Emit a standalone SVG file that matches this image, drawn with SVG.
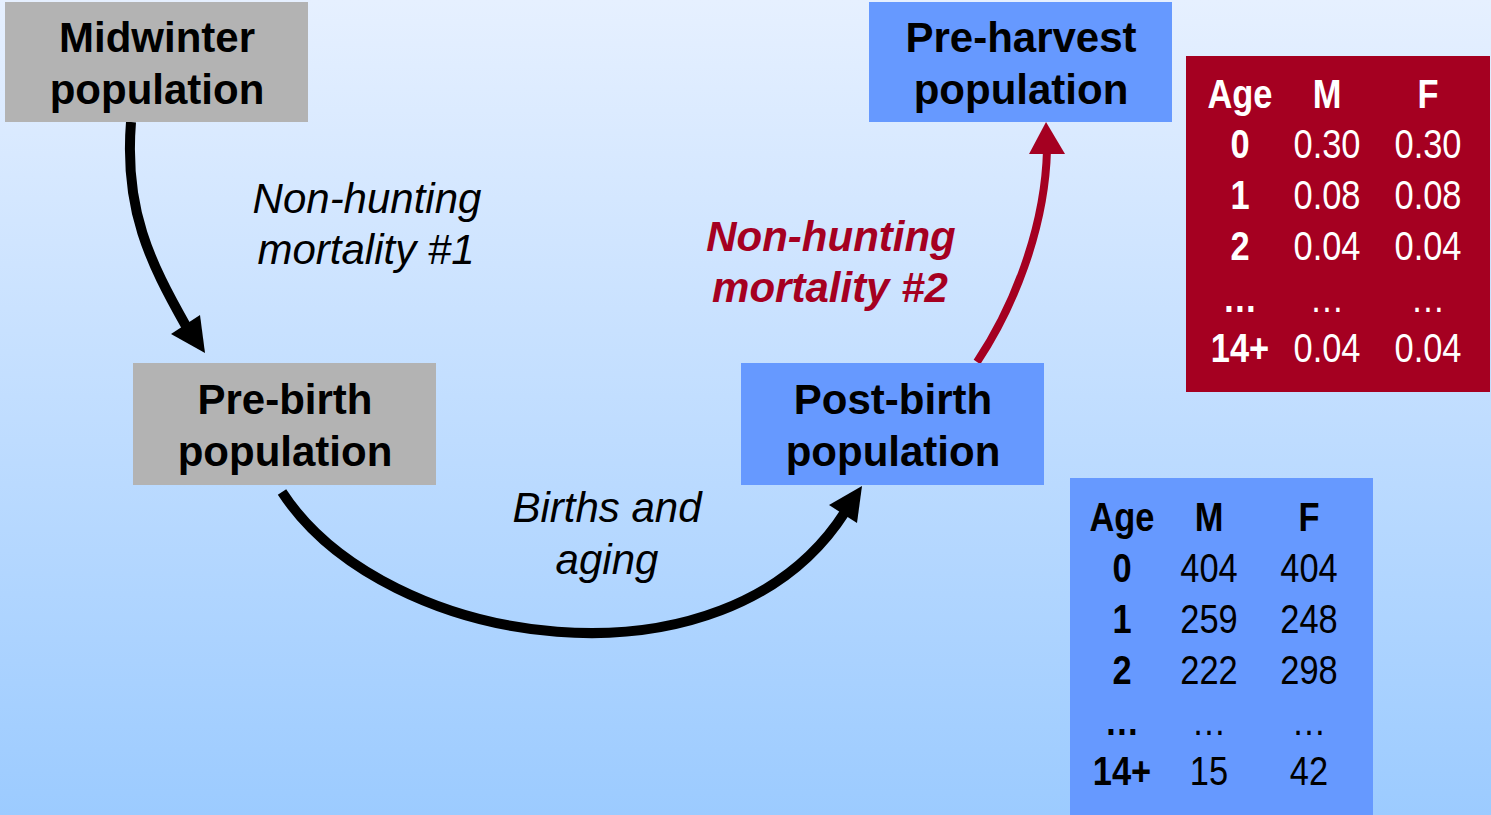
<svg xmlns="http://www.w3.org/2000/svg" width="1491" height="815" viewBox="0 0 1491 815">
<defs>
<linearGradient id="bg" x1="0" y1="0" x2="0" y2="1">
<stop offset="0" stop-color="#e6f0ff"/>
<stop offset="1" stop-color="#9ccbff"/>
</linearGradient>
<style>
.grey{fill:#b3b3b3}
.blue{fill:#6699ff}
.red{fill:#a50021}
.title{font-family:"Liberation Sans",Arial,sans-serif;font-weight:bold;font-size:42px;text-anchor:middle;fill:#000}
.lbl{font-family:"Liberation Sans",Arial,sans-serif;font-style:italic;font-size:42px;text-anchor:middle;fill:#000}
.lblr{font-family:"Liberation Sans",Arial,sans-serif;font-style:italic;font-weight:bold;font-size:42px;text-anchor:middle;fill:#a50021}
.tb text{font-family:"Liberation Sans",Arial,sans-serif;font-size:41px;text-anchor:middle}
.hd{font-weight:bold}
.v{font-weight:normal}
.w text{fill:#fff}
.k text{fill:#000}
.arr{fill:none;stroke:#000;stroke-width:10}
.arrr{fill:none;stroke:#a50021;stroke-width:8}
</style>
</defs>
<rect width="1491" height="815" fill="url(#bg)"/>
<g id="connectors">
<path class="arr" d="M131,122 C124,210 150,262 186,326"/>
<polygon points="205,353 171,334 200,315" fill="#000"/>
<path class="arr" d="M282,492 C385,650 725,700 845,512"/>
<polygon points="862,486 829,505 857,523" fill="#000"/>
<path class="arrr" d="M977,362 C1012,310 1045,230 1047,150"/>
<polygon points="1046,122 1029,154 1065,154" fill="#a50021"/>
</g>
<g id="label-nh1">
<text class="lbl" x="367" y="213">Non-hunting</text>
<text class="lbl" x="366" y="264">mortality #1</text>
</g>
<g id="label-nh2">
<text class="lblr" x="831" y="251">Non-hunting</text>
<text class="lblr" x="830" y="302">mortality #2</text>
</g>
<g id="label-births">
<text class="lbl" x="607" y="522">Births and</text>
<text class="lbl" x="607" y="574">aging</text>
</g>
<g id="node-midwinter">
<rect class="grey" x="5" y="2" width="303" height="120"/>
<text class="title" x="157" y="52">Midwinter</text>
<text class="title" x="157" y="104">population</text>
</g>
<g id="node-prebirth">
<rect class="grey" x="133" y="363" width="303" height="122"/>
<text class="title" x="285" y="414">Pre-birth</text>
<text class="title" x="285" y="466">population</text>
</g>
<g id="node-postbirth">
<rect class="blue" x="741" y="363" width="303" height="122"/>
<text class="title" x="893" y="414">Post-birth</text>
<text class="title" x="893" y="466">population</text>
</g>
<g id="node-preharvest">
<rect class="blue" x="869" y="2" width="303" height="120"/>
<text class="title" x="1021" y="52">Pre-harvest</text>
<text class="title" x="1021" y="104">population</text>
</g>
<g id="table-mortality" class="tb w">
<rect class="red" x="1186" y="56" width="304" height="336"/>
<g transform="translate(1240 0) scale(0.84 1)">
<text class="hd" x="0" y="108">Age</text>
<text class="hd" x="0" y="158">0</text>
<text class="hd" x="0" y="209">1</text>
<text class="hd" x="0" y="260">2</text>
<text class="hd" x="0" y="312">…</text>
<text class="hd" x="0" y="362">14+</text>
</g>
<g transform="translate(1327 0) scale(0.84 1)">
<text class="hd" x="0" y="108">M</text>
<text class="v" x="0" y="158">0.30</text>
<text class="v" x="0" y="209">0.08</text>
<text class="v" x="0" y="260">0.04</text>
<text class="v" x="0" y="312">…</text>
<text class="v" x="0" y="362">0.04</text>
</g>
<g transform="translate(1428 0) scale(0.84 1)">
<text class="hd" x="0" y="108">F</text>
<text class="v" x="0" y="158">0.30</text>
<text class="v" x="0" y="209">0.08</text>
<text class="v" x="0" y="260">0.04</text>
<text class="v" x="0" y="312">…</text>
<text class="v" x="0" y="362">0.04</text>
</g>
</g>
<g id="table-population" class="tb k">
<rect class="blue" x="1070" y="478" width="303" height="337"/>
<g transform="translate(1122 0) scale(0.84 1)">
<text class="hd" x="0" y="531">Age</text>
<text class="hd" x="0" y="582">0</text>
<text class="hd" x="0" y="633">1</text>
<text class="hd" x="0" y="684">2</text>
<text class="hd" x="0" y="735">…</text>
<text class="hd" x="0" y="785">14+</text>
</g>
<g transform="translate(1209 0) scale(0.84 1)">
<text class="hd" x="0" y="531">M</text>
<text class="v" x="0" y="582">404</text>
<text class="v" x="0" y="633">259</text>
<text class="v" x="0" y="684">222</text>
<text class="v" x="0" y="735">…</text>
<text class="v" x="0" y="785">15</text>
</g>
<g transform="translate(1309 0) scale(0.84 1)">
<text class="hd" x="0" y="531">F</text>
<text class="v" x="0" y="582">404</text>
<text class="v" x="0" y="633">248</text>
<text class="v" x="0" y="684">298</text>
<text class="v" x="0" y="735">…</text>
<text class="v" x="0" y="785">42</text>
</g>
</g>
</svg>
